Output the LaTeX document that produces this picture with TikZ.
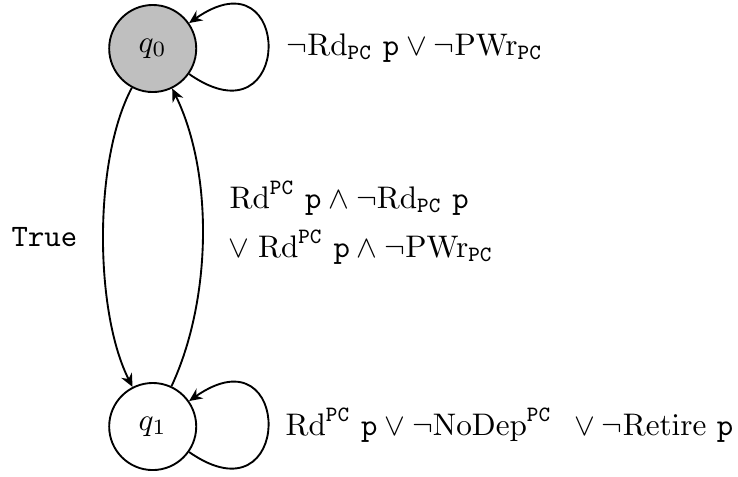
\documentclass[tikz,border=0pt]{standalone}
\usetikzlibrary{arrows.meta}
\newcommand{\pcx}{\mathtt{PC}}
\begin{document}
\begin{tikzpicture}[x=0.3205pt,y=0.3205pt,
  state/.style={circle,draw,line width=0.6pt,minimum size=27.9pt,inner sep=0pt},
  trans/.style={line width=0.6pt,-{Stealth[length=4.2pt,width=3.8pt]}},
  lbl/.style={anchor=base west,inner sep=0pt}]
\useasboundingbox (0,0) rectangle (738,-476);
\node[state,fill=gray!50] (q0) at (152.7,-48.5) {$q_0$};
\node[state] (q1) at (152.7,-426.5) {$q_1$};
\draw[trans] (q0.-35) .. controls +(-35:128) and +(35:128) .. (q0.35);
\draw[trans] (q1.-35) .. controls +(-35:128) and +(35:128) .. (q1.35);
\draw[trans] (q0.-118) .. controls +(-118:83) and +(117:83) .. (q1.117);
\draw[trans] (q1.65) .. controls +(65:95) and +(-64:95) .. (q0.-64);
\node[lbl] (l0) at (286,-55) {$\neg\mathrm{Rd}_{\pcx}\ \mathtt{p}\vee\neg\mathrm{PWr}_{\pcx}$};
\node[lbl] (m1) at (229,-208) {$\mathrm{Rd}^{\pcx}\ \mathtt{p}\wedge\neg\mathrm{Rd}_{\pcx}\ \mathtt{p}$};
\node[lbl] (m2) at (228,-257) {$\vee\;\mathrm{Rd}^{\pcx}\ \mathtt{p}\wedge\neg\mathrm{PWr}_{\pcx}$};
\node[lbl] (t) at (11,-246.7) {\texttt{True}};
\node[lbl] (l1) at (285,-435) {$\mathrm{Rd}^{\pcx}\ \mathtt{p}\vee\neg\mathrm{NoDep}^{\pcx}\ \,\vee\neg\mathrm{Retire}\ \mathtt{p}$};
\end{tikzpicture}
\end{document}
